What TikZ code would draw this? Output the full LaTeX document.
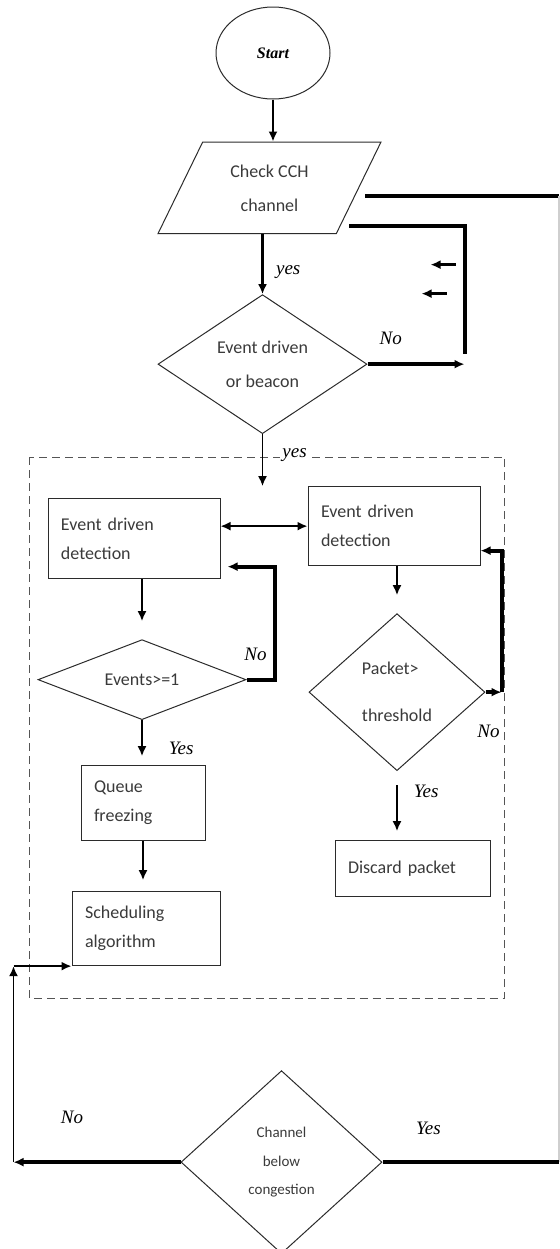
\documentclass[tikz,border=0pt]{standalone}
\usepackage{fontspec}
\setmainfont{Carlito}
\newfontfamily\lblfont{Liberation Serif}
\usetikzlibrary{arrows.meta, positioning, shapes.geometric, calc}
\definecolor{inkline}{HTML}{2B2B2B}
\definecolor{framegray}{HTML}{555555}
\definecolor{edgegray}{HTML}{CFCFCF}
\definecolor{boxtext}{HTML}{3A3A3A}
\tikzset{
  startnode/.style={ellipse, draw=inkline, line width=0.5pt, minimum width=57pt, minimum height=46pt,
    inner sep=0pt, font=\lblfont\bfseries\itshape\fontsize{8}{9}\selectfont},
  iobox/.style={trapezium, trapezium left angle=64, trapezium right angle=116, trapezium stretches body=true,
    draw=inkline, line width=0.5pt, minimum width=111.5pt, inner xsep=0pt, inner ysep=11.25pt,
    align=center, text=boxtext, font=\fontsize{9}{17}\selectfont},
  decision/.style={diamond, draw=inkline, line width=0.5pt, inner sep=0pt, align=center, text=boxtext,
    font=\fontsize{9}{17}\selectfont},
  pbox/.style={rectangle, draw=inkline, line width=0.5pt, inner xsep=6.5pt, inner ysep=0pt, align=left,
    text=boxtext, font=\fontsize{9}{14.5}\selectfont},
  flow/.style={-{Latex[length=5pt,width=4.5pt]}, line width=0.9pt},
  link/.style={{Latex[length=5pt,width=4.5pt]}-{Latex[length=5pt,width=4.5pt]}, line width=0.9pt},
  heavy/.style={line width=2pt},
  lbl/.style={font=\lblfont\itshape\fontsize{9.5}{11}\selectfont, inner sep=1pt},
  frame/.style={draw=framegray, dash pattern=on 4pt off 2.5pt, line width=0.6pt}
}

\begin{document}
\begin{tikzpicture}
\useasboundingbox (0,0) rectangle (280pt,-624.5pt);
\node[startnode] (start) at (136.5pt,-26.5pt) {Start};
\node[iobox, below=21pt of start, xshift=-1.75pt] (check) {Check CCH\\channel};
\node[decision, shape aspect=1.5, minimum width=104.5pt, minimum height=69.5pt,
  below=30pt of check, xshift=-3.5pt] (dec1) {Event driven\\or beacon};
\node[pbox, text width=73pt, minimum height=40pt, below=32pt of dec1, xshift=-64.25pt] (detA) {Event driven\\detection};
\node[pbox, text width=73pt, minimum height=39.5pt, right=43.5pt of detA, yshift=6.25pt] (detB) {Event driven\\detection};
\node[decision, shape aspect=2.6, minimum width=104pt, minimum height=40pt,
  below=30pt of detA, xshift=4pt] (dec2) {Events>=1};
\node[pbox, text width=49pt, minimum height=37.5pt, below=22.5pt of dec2, xshift=0.5pt] (queue) {Queue\\freezing};
\node[pbox, text width=61pt, minimum height=37pt, below=25pt of queue, xshift=1.5pt] (sched) {Scheduling\\algorithm};
\node[decision, shape aspect=1.12, minimum width=88pt, minimum height=78.5pt, font=\fontsize{9}{23.5}\selectfont,
  align=left, below=23.5pt of detB, xshift=1.5pt] (dec3) {Packet>\\threshold};
\node[pbox, text width=64.5pt, minimum height=28pt, below=34.5pt of dec3, xshift=7.75pt] (discard) {Discard packet};
\node[decision, shape aspect=1.1, minimum width=100.5pt, minimum height=91.5pt, font=\fontsize{7.5}{14.25}\selectfont,
  below=52pt of sched, xshift=67.75pt] (dec4) {Channel\\below\\congestion};

% dashed block round the detection part
\draw[frame] ($(detA.west |- detB.north)+(-9pt,14.5pt)$) rectangle ($(discard.east |- sched.south)+(7pt,-16pt)$);

\coordinate (redge) at (279.6pt,0);
\coordinate (lp) at ($(dec1.east)+(48.5pt,0)$);
\coordinate (yesend) at (dec1.south |- detB.north);
\coordinate (lft) at ($(dec4.west)+(-83.5pt,0)$);
\coordinate (rstart) at ($(check.east)+(3pt,-4pt)$);
\coordinate (a1) at ($(lp)+(-4.5pt,49.75pt)$);
\coordinate (a1h) at ($(lp)+(-17pt,49.75pt)$);
\coordinate (a2) at ($(lp)+(-9pt,35.25pt)$);
\coordinate (a2h) at ($(lp)+(-21.5pt,35.25pt)$);

\draw[flow] (start.south) -- (start.south |- check.north);
\draw[flow, line width=1.6pt] (dec1.north |- check.south) -- (dec1.north) node[lbl, pos=0.63, right=5pt] {yes};
\draw[flow, heavy] (dec1.east) -- (lp) node[lbl, pos=0.24, above=7.5pt] {No};
\draw[heavy] ($(check.east)+(-5pt,-19pt)$) -| ($(lp)+(0,5pt)$);
\draw[flow, line width=1.6pt] (a1) -- (a1h);
\draw[flow, line width=1.6pt] (a2) -- (a2h);
\draw[heavy] (rstart) -- (rstart -| redge);
\draw[edgegray, line width=0.8pt] (rstart -| redge) -- (dec4.east -| redge);
\draw[flow] (dec1.south) -- (yesend) node[lbl, pos=0.4, right=8.5pt, fill=white] {yes};

\draw[link] (detB.west -| detA.east) -- (detB.west);
\draw[flow, shorten >=9pt] (dec2.north |- detA.south) -- (dec2.north);
\draw[flow, heavy] (dec2.east) -- ++(14pt,0) node[lbl, above left, xshift=-2pt, yshift=7.3pt] {No}
  |- ($(detA.east)+(3.5pt,-14pt)$);
\draw[flow, shorten >=4.5pt] (dec2.south) -- (dec2.south |- queue.north) node[lbl, pos=0.62, right=12pt] {Yes};
\draw[flow, shorten >=5.5pt] (queue.south) -- (queue.south |- sched.north);

\draw[flow, shorten >=9pt] (dec3.north |- detB.south) -- (dec3.north);
\draw[flow, heavy] (dec3.east) -- ++(8pt,0) coordinate (c3) node[lbl, below left, xshift=1pt, yshift=-14.6pt] {No};
\draw[flow, heavy] (c3) |- ($(detB.east)+(0,-12.25pt)$);
\draw[flow, shorten <=7pt, shorten >=4.5pt] (dec3.south) -- (dec3.south |- discard.north) node[lbl, pos=0.3, right=7pt] {Yes};

\draw[flow, heavy] (dec4.west) -- (lft) node[lbl, pos=0.65, above=17pt] {No};
\draw[flow] (lft) -- (lft |- sched.south);
\draw[flow] (lft |- sched.south) -- (sched.south west);
\draw[heavy] (dec4.east) -- (dec4.east -| redge) node[lbl, pos=0.26, above=11.6pt] {Yes};
\end{tikzpicture}
\end{document}
